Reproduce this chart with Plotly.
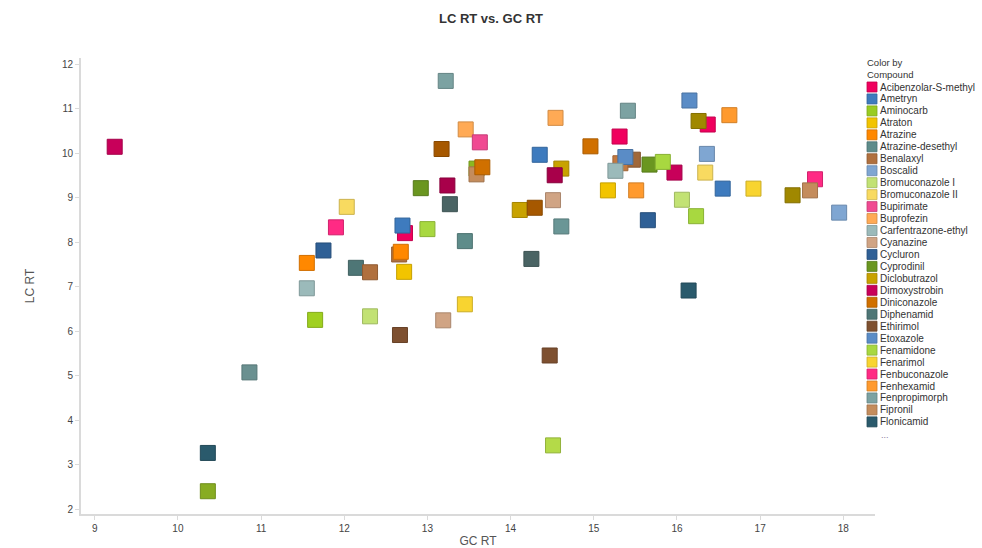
import plotly.graph_objects as go

# Legend entries (compound name -> colour)
compounds = [
    "Acibenzolar-S-methyl", "Ametryn", "Aminocarb", "Atraton", "Atrazine",
    "Atrazine-desethyl", "Benalaxyl", "Boscalid", "Bromuconazole I",
    "Bromuconazole II", "Bupirimate", "Buprofezin", "Carfentrazone-ethyl",
    "Cyanazine", "Cycluron", "Cyprodinil", "Diclobutrazol", "Dimoxystrobin",
    "Diniconazole", "Diphenamid", "Ethirimol", "Etoxazole", "Fenamidone",
    "Fenarimol", "Fenbuconazole", "Fenhexamid", "Fenpropimorph", "Fipronil",
    "Flonicamid",
]
compound_colors = [
    "#F0005E", "#3E7BBE", "#99CC22", "#F2C400", "#FF8800",
    "#5E8C8A", "#B0703E", "#7FA6D2", "#C2E274", "#F8DA60",
    "#F04A92", "#FFAA55", "#9BBABA", "#D0A484", "#2F6096",
    "#6A9620", "#C8A200", "#C8005A", "#D07000", "#4E7676",
    "#7E5030", "#5A8CC6", "#A8D840", "#F8D430", "#FF2A84",
    "#FF9A2E", "#7CA2A2", "#C48C5C", "#2A5A6C",
]

# Retention times (GC RT, LC RT) and the colour of each compound's marker
gc_rt = [
    9.24, 12.03, 11.90, 11.75, 11.55, 12.14, 12.31, 11.55,
    13.22, 13.46, 13.63, 13.17, 13.59, 13.59, 13.66, 12.92,
    13.24, 13.27, 12.73, 12.70, 13.00, 13.45, 12.66, 12.68,
    12.72, 14.54, 14.35, 14.61, 14.53, 14.96, 15.41, 15.31,
    15.47, 15.32, 15.38, 15.26, 15.17, 14.11, 14.29, 14.51,
    14.61, 14.25, 16.15, 16.37, 16.26, 16.63, 15.67, 15.97,
    15.83, 16.36, 16.34, 16.55, 16.92, 15.51, 16.06, 16.23,
    15.65, 17.66, 17.39, 17.60, 17.95, 16.14, 11.65, 10.86,
    10.36, 10.36, 12.31, 12.67, 13.19, 13.45, 14.47, 14.51,
]
lc_rt = [
    10.14, 8.79, 8.33, 7.81, 7.53, 7.42, 7.32, 6.96,
    11.62, 10.53, 10.24, 10.09, 9.65, 9.52, 9.68, 9.21,
    9.27, 8.85, 8.20, 8.37, 8.29, 8.02, 7.72, 7.78,
    7.33, 10.79, 9.96, 9.65, 9.50, 10.15, 10.95, 10.37,
    9.85, 9.77, 9.91, 9.60, 9.16, 8.72, 8.77, 8.94,
    8.35, 7.62, 11.18, 10.64, 10.72, 10.85, 9.74, 9.56,
    9.80, 9.98, 9.56, 9.20, 9.20, 9.16, 8.95, 8.58,
    8.49, 9.41, 9.05, 9.16, 8.66, 6.91, 6.25, 5.07,
    3.26, 2.40, 6.33, 5.91, 6.24, 6.60, 5.45, 3.43,
]
point_colors = [
    "#C8005A", "#F8DA60", "#FF2A84", "#2F6096", "#FF8800", "#4E7676", "#B0703E", "#9BBABA",
    "#7CA2A2", "#FFAA55", "#F04A92", "#A65800", "#8CB820", "#C48C5C", "#D07000", "#6A9620",
    "#A8004A", "#4A6464", "#F0005E", "#3E7BBE", "#A8D840", "#5E8C8A", "#B0703E", "#FF8800",
    "#F2C400", "#FFAA55", "#3E7BBE", "#C8A200", "#A8004A", "#D07000", "#7CA2A2", "#F0005E",
    "#A0683A", "#C47A40", "#5A8CC6", "#9BBABA", "#F2C400", "#C8A200", "#A65800", "#D0A484",
    "#6A9696", "#4A6464", "#5A8CC6", "#F0005E", "#A08800", "#FF9A2E", "#6A9620", "#C8005A",
    "#A8D840", "#7FA6D2", "#F8DA60", "#3E7BBE", "#F8D430", "#FF9A2E", "#C2E274", "#A8D840",
    "#2F6096", "#FF2A84", "#A08800", "#C48C5C", "#7FA6D2", "#2A5A6C", "#A0D020", "#6A9090",
    "#2A5A6C", "#88AC22", "#C2E274", "#7E5030", "#D0A484", "#F8D430", "#7E5030", "#B4DA48",
]


def darker(hex_color, f=0.82):
    h = hex_color.lstrip("#")
    r, g, b = (int(h[i:i + 2], 16) for i in (0, 2, 4))
    return "rgb({},{},{})".format(int(r * f), int(g * f), int(b * f))


fig = go.Figure()
fig.add_trace(go.Scatter(
    x=gc_rt, y=lc_rt, mode="markers", showlegend=False,
    marker=dict(symbol="square", size=15, color=point_colors,
                line=dict(width=1, color=[darker(c) for c in point_colors])),
    hovertemplate="GC RT: %{x}<br>LC RT: %{y}<extra></extra>",
))

# Plot-area geometry in pixels, used to place the compound key
W, H = 982, 548
ML, MR, MT, MB = 81, 107, 58, 34
PW, PH = W - ML - MR, H - MT - MB


def px_x(px):
    return (px - ML) / PW


def px_y(py):
    return (H - MB - py) / PH


annotations = []
shapes = []
key_font = dict(family="Liberation Sans, Arial, sans-serif", size=10, color="#333333")
annotations.append(dict(text="Color by<br>Compound", xref="paper", yref="paper",
                        x=px_x(865), y=px_y(55), xanchor="left", yanchor="top",
                        align="left", showarrow=False,
                        font=dict(family="Liberation Sans, Arial, sans-serif", size=9.5, color="#333333")))
row0, step = 87, 11.96
for i, (name, col) in enumerate(zip(compounds, compound_colors)):
    cy = row0 + i * step
    shapes.append(dict(type="rect", xref="paper", yref="paper",
                       x0=px_x(867), x1=px_x(877), y0=px_y(cy + 5), y1=px_y(cy - 5),
                       fillcolor=col, line=dict(color=darker(col), width=0.8)))
    annotations.append(dict(text=name, xref="paper", yref="paper",
                            x=px_x(878), y=px_y(cy), xanchor="left", yanchor="middle",
                            showarrow=False, font=key_font))
annotations.append(dict(text="...", xref="paper", yref="paper",
                        x=px_x(879), y=px_y(row0 + len(compounds) * step + 1),
                        xanchor="left", yanchor="middle", showarrow=False,
                        font=dict(family="Liberation Sans, Arial, sans-serif", size=9, color="#8A7A9A")))

axis_common = dict(
    showgrid=False, zeroline=False, showline=True, linecolor="#DADADA", linewidth=2,
    ticks="outside", ticklen=4, tickcolor="#DADADA", tickwidth=1,
    tickfont=dict(family="Liberation Sans, Arial, sans-serif", size=10, color="#444444"),
    automargin=False,
)

fig.update_layout(
    width=W, height=H,
    margin=dict(l=ML, r=MR, t=MT, b=MB),
    paper_bgcolor="white", plot_bgcolor="white",
    title=dict(text="<b>LC RT vs. GC RT</b>", x=0.5, xref="container", xanchor="center",
               y=1 - 18 / H, yref="container", yanchor="middle",
               font=dict(family="Liberation Sans, Arial, sans-serif", size=13, color="#333333")),
    xaxis=dict(range=[8.835, 18.381], dtick=1, tick0=9,
               title=dict(text="GC RT", standoff=8,
                          font=dict(family="Liberation Sans, Arial, sans-serif", size=12, color="#555555")),
               **axis_common),
    yaxis=dict(range=[1.888, 12.135], dtick=1, tick0=2,
               title=dict(text="LC RT", standoff=25,
                          font=dict(family="Liberation Sans, Arial, sans-serif", size=12, color="#555555")),
               **axis_common),
    annotations=annotations,
    shapes=shapes,
)

fig.write_html("out.html")
